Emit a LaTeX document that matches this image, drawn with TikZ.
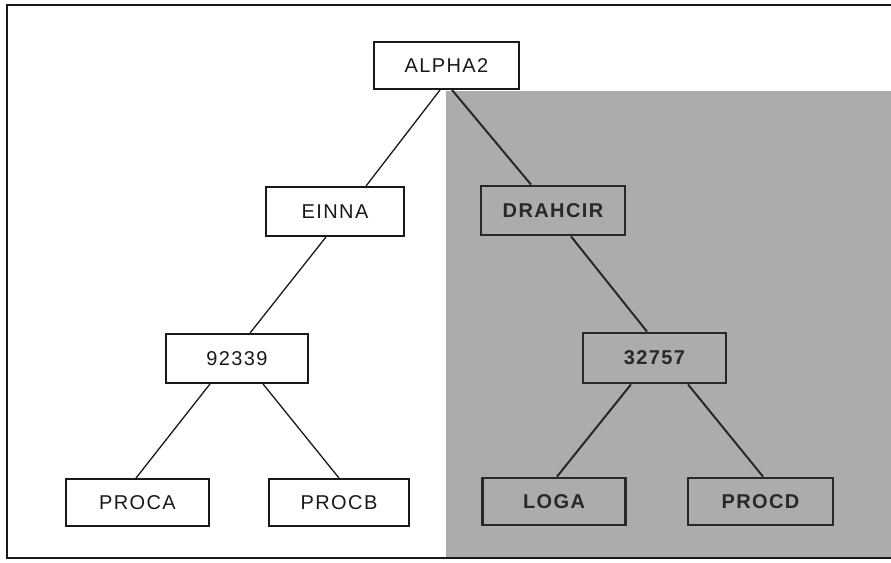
\documentclass[tikz,border=0pt]{standalone}
\usepackage{fontspec}
\setmainfont{Liberation Sans}[LetterSpace=7]
\usetikzlibrary{calc}
\definecolor{grayfill}{RGB}{172,172,172}
\definecolor{ink}{RGB}{25,25,25}
\definecolor{darkink}{RGB}{40,40,40}
\tikzset{
  plainbox/.style={draw=ink, line width=1.9pt, fill=white, minimum width=143pt, minimum height=48pt, inner sep=0pt, font=\fontsize{20}{24}\selectfont, text=ink},
  shadebox/.style={draw=darkink, line width=2.8pt, minimum width=143pt, minimum height=48pt, inner sep=0pt, font=\fontsize{20}{24}\selectfont\bfseries, text=darkink},
  plainlink/.style={draw=ink, line width=1.3pt},
  shadelink/.style={draw=darkink, line width=2pt},
  frameline/.style={draw=ink, line width=2.8pt}
}
\begin{document}
\begin{tikzpicture}[x=1pt,y=-1pt]
\useasboundingbox (0,0) rectangle (891,562);
% shaded half
\fill[grayfill] (446,91) rectangle (891,558);
% frame (open on the right)
\draw[frameline] (891,5) -- (7,5) -- (7,558) -- (891,558);
% nodes
\node[plainbox, minimum width=145pt, minimum height=47pt] (alpha) at (446.5,65.5) {ALPHA2};
\node[plainbox, minimum width=138pt, minimum height=49pt] (einna) at (335,211.5) {EINNA};
\node[shadebox, minimum width=144pt, minimum height=49pt] (drahcir) at (553,210.5) {DRAHCIR};
\node[plainbox, minimum width=142pt, minimum height=49pt] (n92339) at (237,358.5) {92339};
\node[shadebox, minimum width=143pt, minimum height=50pt] (n32757) at (654.5,358) {32757};
\node[plainbox, minimum width=143pt, minimum height=47pt] (proca) at (137.5,502.5) {PROCA};
\node[plainbox, minimum width=140pt, minimum height=47pt] (procb) at (339,502.5) {PROCB};
\node[shadebox, minimum width=143pt, minimum height=47pt] (loga) at (554,501.5) {LOGA};
\node[shadebox, minimum width=145pt, minimum height=47pt] (procd) at (760.5,501.5) {PROCD};
% connectors
\draw[plainlink] ([xshift=-6.5pt]alpha.south) -- ([xshift=31pt]einna.north);
\draw[shadelink] ([xshift=5.5pt]alpha.south) -- ([xshift=-22pt]drahcir.north);
\draw[plainlink] ([xshift=-9pt]einna.south) -- ([xshift=13pt]n92339.north);
\draw[shadelink] ([xshift=18pt]drahcir.south) -- ([xshift=-7.5pt]n32757.north);
\draw[plainlink] ([xshift=-27pt]n92339.south) -- ([xshift=-1.5pt]proca.north);
\draw[plainlink] ([xshift=26pt]n92339.south) -- ([xshift=0pt]procb.north);
\draw[shadelink] ([xshift=-23.5pt]n32757.south) -- ([xshift=3pt]loga.north);
\draw[shadelink] ([xshift=33.5pt]n32757.south) -- ([xshift=2.5pt]procd.north);
\end{tikzpicture}
\end{document}
